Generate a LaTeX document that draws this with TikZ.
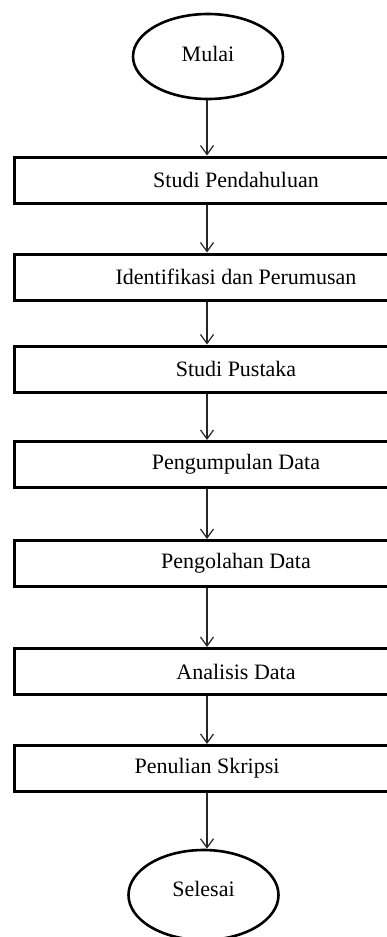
\documentclass[tikz,border=0pt]{standalone}
\usepackage{fontspec}
\setmainfont{Liberation Serif}
\usetikzlibrary{shapes.geometric,arrows.meta}
\begin{document}
\begin{tikzpicture}[x=1pt,y=1pt,
  every node/.style={font=\fontsize{22}{26}\selectfont, text=black},
  term/.style={ellipse, draw, line width=2.6pt, minimum width=150pt, minimum height=85pt, inner sep=0pt},
  stepbox/.style={rectangle, draw, line width=3pt, minimum width=386pt, minimum height=46pt, inner sep=0pt},
  arr/.style={draw=black!85, line width=1.2pt, -{Straight Barb[length=9pt,width=13pt,line width=1.2pt]}}
]
\useasboundingbox (0,0) rectangle (387,-937);
\clip (0,0) rectangle (387,-937);
\node[term] (mulai) at (208,-56.5) {\raisebox{6pt}{Mulai}};
\node[stepbox] (b1) at (207,-180) {\hspace*{58pt}Studi Pendahuluan};
\node[stepbox] (b2) at (207,-277) {\hspace*{58pt}Identifikasi dan Perumusan};
\node[stepbox] (b3) at (207,-369) {\hspace*{58pt}Studi Pustaka};
\node[stepbox] (b4) at (207,-464.5) {\hspace*{58pt}Pengumpulan Data};
\node[stepbox] (b5) at (207,-563.5) {\hspace*{58pt}Pengolahan Data};
\node[stepbox] (b6) at (207,-671.5) {\hspace*{58pt}Analisis Data};
\node[stepbox] (b7) at (207,-768.5) {Penulian Skripsi};
\node[term, minimum height=90pt] (selesai) at (203.5,-895) {\raisebox{12pt}{Selesai}};
\draw[arr] (b1.north |- mulai.south) -- (b1.north);
\draw[arr] (b1.south) -- (b2.north);
\draw[arr] (b2.south) -- (b3.north);
\draw[arr] (b3.south) -- (b4.north);
\draw[arr] (b4.south) -- (b5.north);
\draw[arr] (b5.south) -- (b6.north);
\draw[arr] (b6.south) -- (b7.north);
\draw[arr] (b7.south) -- (b7.south |- selesai.north);
\end{tikzpicture}
\end{document}
